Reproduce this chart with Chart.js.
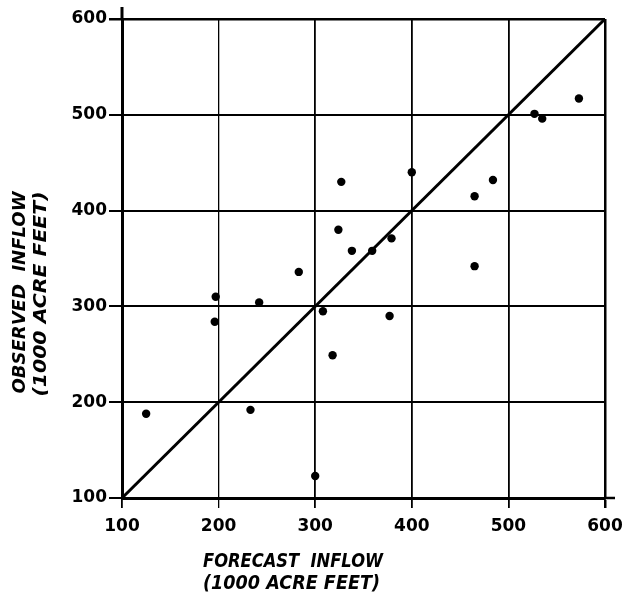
<!DOCTYPE html>
<html>
<head>
<meta charset="utf-8">
<script src="https://cdn.jsdelivr.net/npm/chart.js@4.4.0/dist/chart.umd.min.js"></script>
<style>
  html, body { margin: 0; padding: 0; background: #fff; }
  canvas { display: block; }
</style>
</head>
<body>
<canvas id="c" width="628" height="594"></canvas>
<script>
// ---- data ----
const forecastInflow = [125, 197, 196, 242, 233, 283, 308, 318, 300, 338, 327, 324, 400, 484, 465, 527, 535, 573, 379, 359, 465, 377];
const observedInflow = [188, 310, 284, 304, 192, 336, 295, 249, 123, 358, 430, 380, 440, 432, 415, 501, 496, 517, 371, 358, 342, 290];
const equalLineX = [100, 600];
const equalLineY = [100, 600];
const tickValues = [100, 200, 300, 400, 500, 600];
const xTitleLines = ['FORECAST  INFLOW', '(1000 ACRE FEET)'];
const yTitleLines = ['OBSERVED  INFLOW', '(1000 ACRE FEET)'];

const points = forecastInflow.map((x, i) => ({ x: x, y: observedInflow[i] }));
const linePts = equalLineX.map((x, i) => ({ x: x, y: equalLineY[i] }));

function drawFit(ctx, text, x, y, width, size, angle) {
  ctx.save();
  ctx.font = 'italic bold ' + size + 'px "DejaVu Sans"';
  const w = ctx.measureText(text).width;
  ctx.translate(x, y);
  ctx.rotate(angle);
  ctx.scale(width / w, 1);
  ctx.textAlign = 'center';
  ctx.textBaseline = 'alphabetic';
  ctx.fillStyle = '#000';
  ctx.fillText(text, 0, 0);
  ctx.restore();
}

const titlesPlugin = {
  id: 'titles',
  afterDraw(chart) {
    const ctx = chart.ctx;
    const xs = chart.scales.x, ys = chart.scales.y;
    // axis overshoots (as in the reference drawing)
    ctx.save();
    ctx.strokeStyle = '#000';
    ctx.lineWidth = 3;
    ctx.beginPath();
    const x0 = xs.getPixelForValue(100);
    ctx.moveTo(x0, ys.getPixelForValue(600));
    ctx.lineTo(x0, ys.getPixelForValue(600) - 12);
    ctx.stroke();
    ctx.lineWidth = 2.5;
    ctx.beginPath();
    const yb = ys.getPixelForValue(100);
    ctx.moveTo(xs.getPixelForValue(600), yb);
    ctx.lineTo(xs.getPixelForValue(600) + 10, yb);
    ctx.stroke();
    ctx.restore();

    drawFit(ctx, xTitleLines[0], 293, 567, 180, 20, 0);
    drawFit(ctx, xTitleLines[1], 291.5, 589, 177, 20, 0);
    drawFit(ctx, yTitleLines[0], 25, 292.5, 202, 18, -Math.PI / 2);
    drawFit(ctx, yTitleLines[1], 46, 294, 205, 18, -Math.PI / 2);
  }
};

const tickFont = { family: 'DejaVu Sans', weight: 'bold', size: 17 };

new Chart(document.getElementById('c'), {
  type: 'scatter',
  data: {
    datasets: [
      {
        label: 'equal',
        type: 'line',
        data: linePts,
        borderColor: '#000',
        borderWidth: 3,
        pointRadius: 0,
        fill: false,
        order: 2
      },
      {
        label: 'observations',
        data: points,
        backgroundColor: '#000',
        borderWidth: 0,
        pointRadius: 4.2,
        order: 1
      }
    ]
  },
  options: {
    responsive: false,
    animation: false,
    layout: { padding: { top: 19, right: 23, left: 0, bottom: 0 } },
    plugins: { legend: { display: false }, tooltip: { enabled: false } },
    scales: {
      x: {
        type: 'linear',
        min: 100, max: 600,
        afterBuildTicks: s => { s.ticks = tickValues.map(v => ({ value: v })); },
        ticks: { color: '#000', font: tickFont, padding: 8, maxRotation: 0 },
        grid: {
          color: '#000',
          lineWidth: c => (c.tick && c.tick.value === 600 ? 2.5 : (c.tick && c.tick.value === 200 ? 1.3 : 1.8)),
          tickLength: 10
        },
        border: { display: true, color: '#000', width: 3 },
        afterFit: s => { s.height = 96; s.paddingLeft = 0; s.paddingRight = 0; }
      },
      y: {
        type: 'linear',
        min: 100, max: 600,
        afterBuildTicks: s => { s.ticks = tickValues.map(v => ({ value: v })); },
        ticks: { color: '#000', font: tickFont, padding: 2 },
        grid: {
          color: '#000',
          lineWidth: c => (c.tick && c.tick.value === 600 ? 2.5 : 2),
          tickLength: 13
        },
        border: { display: true, color: '#000', width: 3 },
        afterFit: s => { s.width = 122; s.paddingTop = 0; s.paddingBottom = 0; }
      }
    }
  },
  plugins: [titlesPlugin]
});
</script>
</body>
</html>
